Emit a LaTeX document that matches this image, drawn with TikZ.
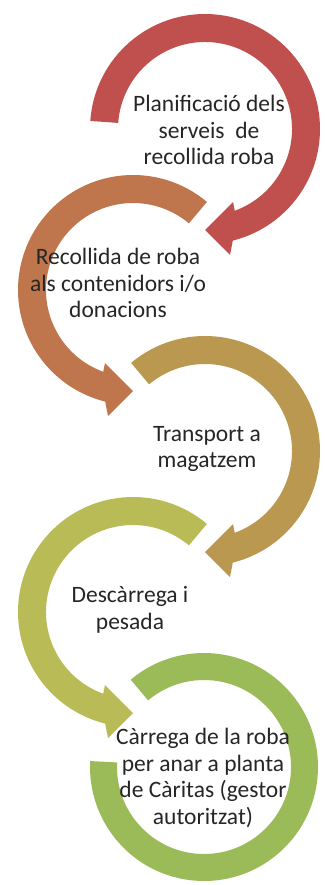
\documentclass[tikz,border=0pt]{standalone}
\usepackage{fontspec}
\setmainfont{Carlito}
\definecolor{cA}{RGB}{192,80,77}
\definecolor{cB}{RGB}{191,118,76}
\definecolor{cC}{RGB}{186,152,80}
\definecolor{cD}{RGB}{185,187,86}
\definecolor{cE}{RGB}{155,187,89}
% circular arrow: #1 scope options, #2 colour, #3 start angle
\newcommand\CircArr[3]{%
  \begin{scope}[#1]
    \fill[#2] (#3:115) arc[start angle=#3, end angle=-76, radius=115]
      -- (25,-126) -- (0,-101) -- (28,-73) -- (-70:87)
      arc[start angle=-70, end angle=#3, radius=87] -- cycle;
  \end{scope}}
\begin{document}
\begin{tikzpicture}[x=1pt,y=1pt,
  lbl/.style={align=center, font=\fontsize{23.5}{26.5}\selectfont, text=black!85, inner sep=0pt}]
\useasboundingbox (0,0) rectangle (324,-885);
\CircArr{shift={(205,-129)}}{cA}{176}
\CircArr{shift={(133,-290)},xscale=-1}{cB}{130}
\CircArr{shift={(205,-451)}}{cC}{130}
\CircArr{shift={(133,-612)},xscale=-1}{cD}{130}
\begin{scope}[shift={(204,-767)}]
  \fill[cE] (130:114) arc[start angle=130, end angle=-183, radius=114]
    -- (-183:87) arc[start angle=-183, end angle=130, radius=87] -- cycle;
\end{scope}
\node[lbl] (t1) at (209,-130) {Planificació dels\\serveis\ \ de\\recollida roba};
\node[lbl] (t2) at (118,-283) {Recollida de roba\\als contenidors i/o\\donacions};
\node[lbl] (t3) at (207,-449) {Transport a\\magatzem};
\node[lbl] (t4) at (130,-610) {Descàrrega i\\pesada};
\node[lbl] (t5) at (203,-778) {Càrrega de la roba\\per anar a planta\\de Càritas (gestor\\autoritzat)};
\end{tikzpicture}
\end{document}
